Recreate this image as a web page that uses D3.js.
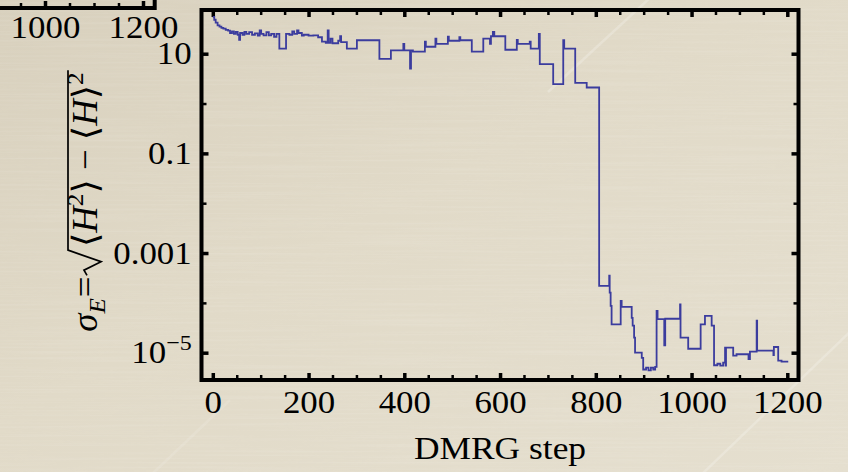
<!DOCTYPE html>
<html>
<head>
<meta charset="utf-8">
<script src="https://cdn.jsdelivr.net/npm/d3@7"></script>
<style>
  html, body { margin: 0; padding: 0; background: #e2dbc9; }
  svg { display: block; }
  text { font-family: "Liberation Serif", "Times New Roman", "DejaVu Serif", serif; fill: #000; }
</style>
</head>
<body>
<svg id="chart" width="848" height="472"></svg>
<script>
// DMRG convergence: energy variance per sweep step (log scale)
const dmrgStep = [
  0, 3, 6, 10, 14, 18, 22, 27, 32, 36, 40, 44, 48, 52, 55, 57, 62, 66, 70, 76,
  82, 88, 94, 98, 101, 106, 112, 117, 122, 128, 133, 139, 153, 160, 166, 170, 176, 179, 186, 190,
  200, 210, 220, 228, 236, 240, 242, 246, 250, 262, 266, 268, 280, 301, 348, 372, 398, 400, 412, 414,
  418, 443, 445, 465, 467, 491, 493, 515, 517, 541, 565, 579, 581, 585, 588, 611, 635, 637, 662, 664,
  681, 683, 711, 732, 734, 757, 781, 807, 828, 829, 831, 833, 852, 854, 875, 877, 880, 882, 896, 899,
  905, 910, 915, 920, 924, 927, 929, 943, 945, 976, 977, 993, 1019, 1028, 1042, 1047, 1054, 1060, 1066, 1070,
  1071, 1072, 1087, 1094, 1119, 1122, 1136, 1137, 1171, 1172, 1181, 1188, 1202
];
const sigmaE = [
  55, 48, 42, 37, 35, 33, 32, 30, 29, 26, 28, 25, 27.5, 24, 19, 26, 24, 27.5, 25, 27,
  24, 25.7, 23, 29.5, 25, 23.4, 27, 23.4, 25, 21.9, 25, 12.6, 25, 24, 28, 25, 29.5, 26, 23, 24,
  23, 23.4, 21.4, 17.4, 16.6, 29.5, 16.6, 20, 16.2, 18.2, 22.4, 17, 12.6, 18.6, 7.9, 11.7, 15.8, 11.7, 5.0, 11.7,
  11, 17.4, 13.8, 20, 15.8, 21.9, 18.2, 21.4, 18.6, 11, 20, 15.8, 22.4, 27.5, 22.4, 12, 19, 15.8, 17.4, 12.6,
  25, 6.2, 2.45, 18.6, 12.6, 2.6, 2.1, 2.2e-4, 3.5e-4, 1.6e-4, 8.7e-5, 3.7e-5, 1.1e-4, 8.3e-5, 5.0e-5, 3.5e-5, 2.0e-5, 1.0e-5, 7.9e-6, 4.6e-6,
  5.0e-6, 4.4e-6, 5.0e-6, 4.6e-6, 5.2e-6, 6.9e-5, 4.7e-5, 1.4e-5, 4.8e-5, 9.3e-5, 2.0e-5, 1.2e-5, 3.7e-5, 5.5e-5, 3.5e-5, 5.6e-6, 6.0e-6, 5.5e-6, 6.3e-6, 1.26e-5,
  5.5e-6, 1.26e-5, 8.7e-6, 9.3e-6, 7.4e-6, 1.05e-5, 4.4e-5, 1.1e-5, 8.9e-6, 1.3e-5, 6.9e-6, 6.6e-6, 6.6e-6
];
const xMajorTicks = [0, 200, 400, 600, 800, 1000, 1200];
const xMinorTicks = [50, 100, 150, 250, 300, 350, 450, 500, 550, 650, 700, 750, 850, 900, 950, 1050, 1100, 1150];
const yMajorTicks = [10, 0.1, 0.001, 1e-5];
const yMinorTicks = [1, 0.01, 1e-4];
const yTickLabels = ["10", "0.1", "0.001", "10^-5"];
// neighbouring panel (cut off at the top-left corner)
const sideMajorTicks = [1000, 1200];
const sideMinorTicks = [950, 1050, 1100, 1150];

const svg = d3.select("#chart");
const W = 848, H = 472;
const box = { left: 201.5, top: 10, right: 798.5, bottom: 380 };
const FS = 32;        // tick label font size
const WIDEN = 1.09;   // the serif face used here is set a little wide

// ---- background paper ----
const defs = svg.append("defs");
const grad = defs.append("linearGradient").attr("id", "paper")
  .attr("x1", 0).attr("y1", 0).attr("x2", 1).attr("y2", 1);
grad.append("stop").attr("offset", "0%").attr("stop-color", "#d8d0bd");
grad.append("stop").attr("offset", "45%").attr("stop-color", "#e1dac8");
grad.append("stop").attr("offset", "100%").attr("stop-color", "#e5dfcf");
const grain = defs.append("filter").attr("id", "grain")
  .attr("x", 0).attr("y", 0).attr("width", "100%").attr("height", "100%");
grain.append("feTurbulence").attr("type", "fractalNoise")
  .attr("baseFrequency", "0.006 0.45").attr("numOctaves", 2).attr("seed", 7);
grain.append("feColorMatrix").attr("type", "matrix")
  .attr("values", "0 0 0 0 1  0 0 0 0 1  0 0 0 0 1  0 0 0 0.6 -0.25");
svg.append("rect").attr("width", W).attr("height", H).attr("fill", "url(#paper)");
svg.append("rect").attr("width", W).attr("height", H).attr("filter", "url(#grain)").attr("opacity", 0.35);
// faint light streaks across the paper
[[548, 92, 652, -4, 0.22], [700, 476, 852, 330, 0.22], [150, 476, 230, 400, 0.12]].forEach(s => {
  svg.append("line").attr("x1", s[0]).attr("y1", s[1]).attr("x2", s[2]).attr("y2", s[3])
    .attr("stroke", "#fff").attr("stroke-opacity", s[4]).attr("stroke-width", 2.5);
});

// ---- scales ----
const x = d3.scaleLinear().domain([-23.6, 1223.4]).range([box.left, box.right]);
const y = d3.scaleLog().domain([Math.pow(10, -5.548), Math.pow(10, 1.877)]).range([box.bottom, box.top]);

function styleTicks(g, w) {
  g.select(".domain").remove();
  g.selectAll(".tick line").attr("stroke", "#000").attr("stroke-width", w);
}
function styleLabels(g) {
  g.selectAll(".tick text").attr("font-size", FS).attr("font-family", null).attr("fill", "#000")
    .attr("transform", `scale(${WIDEN},1)`);
}

// ---- neighbouring panel fragment ----
const xs = d3.scaleLinear().domain([1000, 1200]).range([45, 143]);
svg.append("path").attr("d", "M-5,8H154.7V-5").attr("fill", "none")
  .attr("stroke", "#000").attr("stroke-width", 4);
svg.append("g").attr("transform", "translate(0,8)")
  .call(d3.axisBottom(xs).tickValues(sideMinorTicks).tickSize(-5).tickFormat(""))
  .call(g => styleTicks(g, 2.5));
svg.append("g").attr("transform", "translate(0,8)")
  .call(d3.axisBottom(xs).tickValues(sideMajorTicks).tickSize(-7).tickPadding(7.6).tickFormat(d3.format("d")))
  .call(g => styleTicks(g, 3.5))
  .call(styleLabels);

// ---- frame ticks ----
const tickSets = [
  { axis: d3.axisBottom, scale: x, pos: `translate(0,${box.bottom})` },
  { axis: d3.axisTop, scale: x, pos: `translate(0,${box.top})` },
  { axis: d3.axisLeft, scale: y, pos: `translate(${box.left},0)` },
  { axis: d3.axisRight, scale: y, pos: `translate(${box.right},0)` }
];
tickSets.forEach(t => {
  const minors = t.scale === x ? xMinorTicks : yMinorTicks;
  const majors = t.scale === x ? xMajorTicks : yMajorTicks;
  svg.append("g").attr("transform", t.pos)
    .call(t.axis(t.scale).tickValues(minors).tickSize(-5).tickFormat(""))
    .call(g => styleTicks(g, 2.5));
  svg.append("g").attr("transform", t.pos)
    .call(t.axis(t.scale).tickValues(majors).tickSize(-7).tickFormat(""))
    .call(g => styleTicks(g, 3.5));
});

// bottom tick labels
svg.append("g").attr("transform", `translate(0,${box.bottom})`)
  .call(d3.axisBottom(x).tickValues(xMajorTicks).tickSize(0).tickPadding(10.3).tickFormat(d3.format("d")))
  .call(g => g.select(".domain").remove())
  .call(g => g.selectAll(".tick line").remove())
  .call(styleLabels);

// left tick labels (10^-5 gets a real superscript)
svg.append("g").attr("transform", `translate(${box.left},0)`)
  .call(d3.axisLeft(y).tickValues(yMajorTicks).tickSize(0).tickPadding(9.8 / WIDEN)
    .tickFormat((d, i) => yTickLabels[i]))
  .call(g => g.select(".domain").remove())
  .call(g => g.selectAll(".tick line").remove())
  .call(styleLabels)
  .call(g => g.selectAll(".tick text").each(function () {
    const t = d3.select(this);
    const s = t.text();
    if (s.includes("^")) {
      const [base, exp] = s.split("^");
      t.text(null);
      t.append("tspan").text(base);
      t.append("tspan").attr("dy", -13.5).attr("font-size", 22).text(exp.replace("-", "\u2212"));
    }
  }));

// ---- data line ----
const pts = dmrgStep.map((s, i) => [s, sigmaE[i]]);
svg.append("path").datum(pts)
  .attr("fill", "none").attr("stroke", "#3b3c9e").attr("stroke-width", 1.8)
  .attr("stroke-linejoin", "miter")
  .attr("d", d3.line().x(d => x(d[0])).y(d => y(d[1])).curve(d3.curveStepAfter));

// ---- frame ----
svg.append("rect").attr("x", box.left).attr("y", box.top)
  .attr("width", box.right - box.left).attr("height", box.bottom - box.top)
  .attr("fill", "none").attr("stroke", "#000").attr("stroke-width", 4);

// ---- axis titles ----
svg.append("text").attr("transform", `translate(${(box.left + box.right) / 2},459) scale(${WIDEN},1)`)
  .attr("text-anchor", "middle").attr("font-size", 32.5).text("DMRG step");

// y title: sigma_E = sqrt(<H^2> - <H>^2), rotated
const TS = 35, SUB = 24;
const yt = svg.append("g").attr("transform", "translate(97,202) rotate(-90) scale(1.05,1)");
const lhs = yt.append("text").attr("font-size", TS);
lhs.append("tspan").attr("font-style", "italic").text("\u03c3");
lhs.append("tspan").attr("font-style", "italic").attr("font-size", SUB).attr("dy", 8).text("E");
lhs.append("tspan").attr("dy", -8).attr("dx", 1).text("=");
const rad = yt.append("text").attr("font-size", TS);
rad.append("tspan").text("\u27e8");
rad.append("tspan").attr("font-style", "italic").text("H");
rad.append("tspan").attr("font-size", SUB).attr("dy", -14).text("2");
rad.append("tspan").attr("dy", 14).text("\u27e9 \u2212 \u27e8");
rad.append("tspan").attr("font-style", "italic").text("H");
rad.append("tspan").text("\u27e9");
rad.append("tspan").attr("font-size", SUB).attr("dy", -14).text("2");

const w1 = lhs.node().getComputedTextLength();
const w2 = rad.node().getComputedTextLength();
const rw = 24;           // width of the radical sign
const total = w1 + 2 + rw + 3 + w2;
const x0 = -total / 2;
lhs.attr("x", x0);
const rx = x0 + w1 + 2;
rad.attr("x", rx + rw + 3);
yt.append("path")
  .attr("d", `M${rx},-10 L${rx + 5},-13 L${rx + 13},4 L${rx + rw},-29 H${rx + rw + 3 + w2 + 2}`)
  .attr("fill", "none").attr("stroke", "#000").attr("stroke-width", 1.7).attr("stroke-linejoin", "miter");
</script>
</body>
</html>
